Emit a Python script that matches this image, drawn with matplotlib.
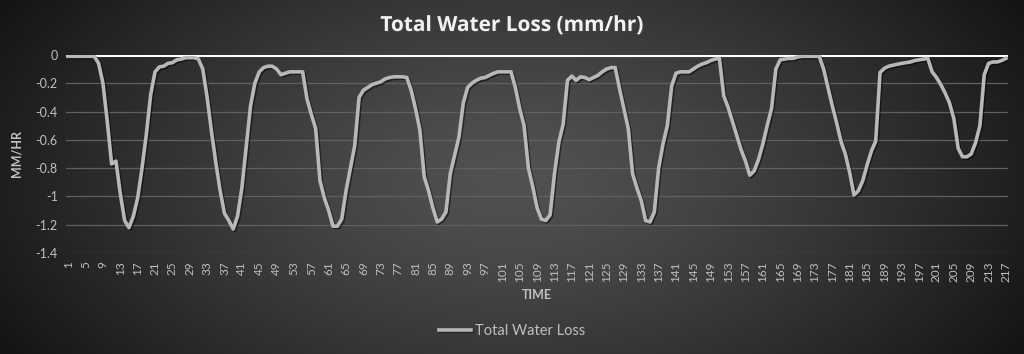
import numpy as np
import matplotlib
matplotlib.use("Agg")
import matplotlib.pyplot as plt
import matplotlib.patheffects as pe

# hourly total water loss (mm/hr), points 1..217
water_loss = [
    -0.01, -0.01, -0.01, -0.01, -0.01, -0.01, -0.01, -0.06, -0.20, -0.47,
    -0.77, -0.75, -0.98, -1.17, -1.22, -1.14, -1.01, -0.80, -0.56, -0.28,
    -0.12, -0.085, -0.08, -0.06, -0.055, -0.035, -0.03, -0.02, -0.02, -0.02,
    -0.03, -0.10, -0.30, -0.54, -0.76, -0.96, -1.12, -1.17, -1.23, -1.14,
    -0.94, -0.65, -0.36, -0.20, -0.12, -0.09, -0.08, -0.08, -0.10, -0.14,
    -0.13, -0.12, -0.12, -0.12, -0.12, -0.31, -0.42, -0.52, -0.89, -1.01,
    -1.10, -1.21, -1.21, -1.16, -0.96, -0.80, -0.64, -0.30, -0.25, -0.23,
    -0.21, -0.20, -0.19, -0.17, -0.16, -0.155, -0.155, -0.155, -0.16, -0.25,
    -0.38, -0.53, -0.86, -0.96, -1.08, -1.18, -1.16, -1.11, -0.84, -0.71,
    -0.58, -0.34, -0.23, -0.20, -0.18, -0.165, -0.16, -0.145, -0.13, -0.12,
    -0.12, -0.12, -0.12, -0.23, -0.38, -0.50, -0.80, -0.93, -1.08, -1.16,
    -1.17, -1.13, -0.84, -0.62, -0.49, -0.18, -0.15, -0.18, -0.155, -0.16,
    -0.175, -0.16, -0.145, -0.12, -0.10, -0.09, -0.09, -0.24, -0.38, -0.52,
    -0.84, -0.94, -1.03, -1.17, -1.18, -1.11, -0.80, -0.63, -0.50, -0.22,
    -0.13, -0.12, -0.12, -0.12, -0.10, -0.08, -0.065, -0.055, -0.04, -0.03,
    -0.025, -0.29, -0.37, -0.47, -0.57, -0.67, -0.75, -0.85, -0.82, -0.74,
    -0.63, -0.50, -0.38, -0.10, -0.035, -0.03, -0.025, -0.025, -0.015, -0.01,
    -0.01, -0.01, -0.01, -0.01, -0.10, -0.23, -0.36, -0.48, -0.61, -0.70,
    -0.83, -0.99, -0.96, -0.89, -0.78, -0.68, -0.61, -0.125, -0.095, -0.08,
    -0.073, -0.066, -0.06, -0.055, -0.05, -0.04, -0.035, -0.03, -0.025, -0.12,
    -0.16, -0.21, -0.27, -0.34, -0.45, -0.66, -0.72, -0.72, -0.70, -0.62,
    -0.50, -0.14, -0.06, -0.05, -0.05, -0.04, -0.025,
]
time = list(range(1, len(water_loss) + 1))
x_labels = [str(t) for t in time[::4]]
y_ticks = [0, -0.2, -0.4, -0.6, -0.8, -1, -1.2, -1.4]
y_labels = ["0", "-0.2", "-0.4", "-0.6", "-0.8", "-1", "-1.2", "-1.4"]

plt.rcParams["font.family"] = ["Lato", "DejaVu Sans"]
txt = "#bfbfbf"

fig = plt.figure(figsize=(10.24, 3.54), dpi=100)

# dark radial background like the excel style
bg = fig.add_axes([0, 0, 1, 1], zorder=0)
gx, gy = np.meshgrid(np.linspace(-1, 1, 512), np.linspace(-1, 1, 177))
r = np.sqrt(gx**2 + (gy * 0.6) ** 2)
shade = 0.32 - 0.20 * np.clip(r, 0, 1.2) ** 1.3
bg.imshow(np.dstack([shade] * 3), aspect="auto", extent=[0, 1, 0, 1])
bg.set_axis_off()

ax = fig.add_axes([0.0645, 0.285, 0.920, 0.56], zorder=1)
ax.patch.set_alpha(0)
for s in ax.spines.values():
    s.set_visible(False)

for y in y_ticks[1:]:
    ax.axhline(y, color="#606060", lw=0.9, zorder=1)
ax.axhline(0, color="white", lw=2.2, zorder=2)

ax.plot(time, water_loss, color="#b8b8b8", lw=2.6, zorder=3,
        label="Total Water Loss",
        path_effects=[pe.SimpleLineShadow(offset=(1, -1), alpha=0.5), pe.Normal()])

ax.set_xlim(0.5, len(water_loss) + 0.5)
ax.set_ylim(-1.4, 0)
ax.set_xticks(time[::4])
ax.set_xticklabels(x_labels, rotation=90, fontsize=8.5, color=txt)
ax.set_yticks(y_ticks)
ax.set_yticklabels(y_labels, fontsize=9, color=txt)
ax.tick_params(length=0, pad=6)

ax.set_xlabel("TIME", fontsize=9, fontweight="bold", color=txt, labelpad=5)
ax.set_ylabel("MM/HR", fontsize=9, fontweight="bold", color=txt, labelpad=9)

fig.text(0.5, 0.928, "Total Water Loss (mm/hr)", ha="center", va="center",
         fontsize=15, fontweight="bold", color="#f2f2f2",
         family=["Open Sans", "DejaVu Sans"],
         path_effects=[pe.withSimplePatchShadow(offset=(1, -1), alpha=0.6)])

fig.legend(loc="center", bbox_to_anchor=(0.5, 0.065), frameon=False,
           fontsize=10.5, labelcolor=txt, handlelength=2.2, handletextpad=0.3)

fig.savefig("out.png", dpi=100, facecolor="#2a2a2a")
